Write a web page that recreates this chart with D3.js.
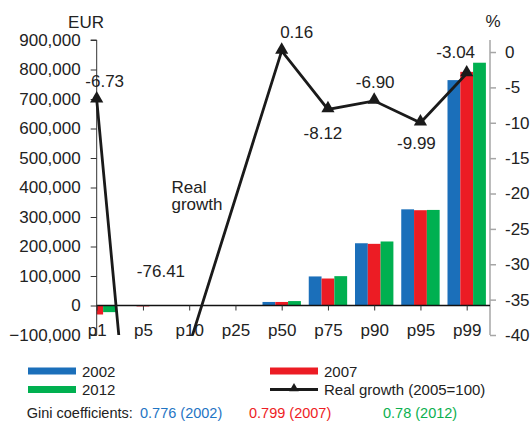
<!DOCTYPE html>
<html>
<head>
<meta charset="utf-8">
<script src="https://cdn.jsdelivr.net/npm/d3@7"></script>
<style>
  body { margin: 0; background: #fff; }
  svg { font-family: "Liberation Sans", Arial, sans-serif; }
</style>
</head>
<body>
<svg width="532" height="425"></svg>
<script>
var categories = ['p1', 'p5', 'p10', 'p25', 'p50', 'p75', 'p90', 'p95', 'p99'];
var years = ['2002', '2007', '2012'];
var wealth2002 = [-20000, 0, 0, 0, 12000, 98500, 211000, 326000, 764000];
var wealth2007 = [-30500, -3000, 0, 0, 12000, 91500, 209000, 323000, 792000];
var wealth2012 = [-22500, -1000, 0, 0, 15000, 99500, 217000, 324000, 823000];
var growth = [-6.73, -76.41, -41.5, null, 0.16, -8.12, -6.90, -9.99, -3.04];
var growthLabels = ['-6.73', '-76.41', '', '', '0.16', '-8.12', '-6.90', '-9.99', '-3.04'];
var leftTicks = [-100000, 0, 100000, 200000, 300000, 400000, 500000, 600000, 700000, 800000, 900000];
var rightTicks = [0, -5, -10, -15, -20, -25, -30, -35, -40];
var gini = [['0.776 (2002)', '#1f75c4'], ['0.799 (2007)', '#ee1d25'], ['0.78 (2012)', '#0bb04f']];

// label nudges, in pixels, relative to each point
var labelNudge = [[8, -13], [18, -58], [0, 0], [0, 0], [15, -13], [-5, 30], [1, -12.5], [-4, 26.5], [-11, -16]];

var colors = ['#1b6fba', '#ec1c24', '#00b050'];
var series = [wealth2002, wealth2007, wealth2012];

var svg = d3.select('svg');
var plotL = 96.7, plotR = 490, plotT = 40, plotB = 335;

var x = d3.scalePoint().domain(categories).range([plotL, 466.7]);
var yL = d3.scaleLinear().domain([-100000, 900000]).range([plotB, plotT]);
var yR = d3.scaleLinear().domain([-40, 1.7]).range([plotB, plotT]);

var barW = 12.8;

svg.append('clipPath').attr('id', 'plot')
  .append('rect').attr('x', plotL).attr('y', plotT).attr('width', plotR - plotL).attr('height', plotB - plotT);
svg.append('clipPath').attr('id', 'lineclip')
  .append('rect').attr('x', 60).attr('y', plotT).attr('width', 460).attr('height', plotB - plotT);

// bars
var bars = svg.append('g').attr('clip-path', 'url(#plot)');
series.forEach(function(s, j) {
  bars.selectAll('.b' + j)
    .data(s)
    .enter()
    .append('rect')
    .attr('x', function(d, i) { return x(categories[i]) - 1.5 * barW + j * barW; })
    .attr('y', function(d) { return Math.min(yL(d), yL(0)); })
    .attr('width', barW)
    .attr('height', function(d) { return Math.abs(yL(d) - yL(0)); })
    .attr('fill', colors[j]);
});

// left axis
var axL = svg.append('g').attr('transform', 'translate(' + plotL + ',0)')
  .call(d3.axisLeft(yL).tickValues(leftTicks).tickSize(6).tickPadding(10).tickFormat(d3.format(',')));
axL.select('.domain').attr('stroke', '#333').attr('d', 'M-6,' + plotT + 'H0V' + plotB + 'H-6');
axL.selectAll('.tick line').attr('stroke', '#333');
axL.selectAll('.tick text').attr('font-size', 17).attr('fill', '#222').attr('font-family', 'Liberation Sans, Arial, sans-serif');

// right axis
var axR = svg.append('g').attr('transform', 'translate(' + plotR + ',0)')
  .call(d3.axisRight(yR).tickValues(rightTicks).tickSize(6).tickPadding(9).tickFormat(d3.format('d')));
axR.select('.domain').attr('stroke', '#a6a6a6').attr('stroke-width', 1.5).attr('d', 'M0,' + plotT + 'V' + plotB);
axR.selectAll('.tick line').attr('stroke', '#a6a6a6').attr('stroke-width', 1.5);
axR.selectAll('.tick text').attr('font-size', 17).attr('fill', '#222').attr('font-family', 'Liberation Sans, Arial, sans-serif')
  .text(function(d) { return d < 0 ? '-' + Math.abs(d) : d; });

// zero line and category axis
var axX = svg.append('g').attr('transform', 'translate(0,' + yL(0) + ')')
  .call(d3.axisBottom(x).tickSize(5).tickPadding(13));
axX.select('.domain').attr('stroke', '#111').attr('stroke-width', 1.3).attr('d', 'M' + plotL + ',0H' + plotR);
axX.selectAll('.tick line').attr('stroke', '#333');
axX.selectAll('.tick text').attr('font-size', 17).attr('fill', '#222').attr('font-family', 'Liberation Sans, Arial, sans-serif');

svg.append('text').attr('x', 86).attr('y', 28).attr('text-anchor', 'middle')
  .attr('font-size', 17).attr('fill', '#222').text('EUR');
svg.append('text').attr('x', 493).attr('y', 27).attr('text-anchor', 'middle')
  .attr('font-size', 17).attr('fill', '#222').text('%');

// growth line
var pts = growth.map(function(v, i) { return {c: categories[i], v: v, i: i}; })
  .filter(function(d) { return d.v !== null; });

var line = d3.line()
  .x(function(d) { return x(d.c); })
  .y(function(d) { return yR(d.v); });

svg.append('path')
  .datum(pts)
  .attr('clip-path', 'url(#lineclip)')
  .attr('d', line)
  .attr('fill', 'none')
  .attr('stroke', '#1a1a1a')
  .attr('stroke-width', 2.8)
  .attr('stroke-linejoin', 'miter');

var tri = d3.symbol().type(d3.symbolTriangle).size(75);
svg.selectAll('.marker')
  .data(pts.filter(function(d) { return d.v >= -40; }))
  .enter()
  .append('path')
  .attr('d', tri)
  .attr('transform', function(d) { return 'translate(' + x(d.c) + ',' + (yR(d.v) - 1) + ')'; })
  .attr('fill', '#1a1a1a');

svg.selectAll('.glabel')
  .data(pts.filter(function(d) { return growthLabels[d.i] !== ''; }))
  .enter()
  .append('text')
  .attr('x', function(d) { return x(d.c) + labelNudge[d.i][0]; })
  .attr('y', function(d) { return yR(Math.max(d.v, -40)) + labelNudge[d.i][1]; })
  .attr('text-anchor', 'middle')
  .attr('font-size', 17)
  .attr('fill', '#222')
  .text(function(d) { return growthLabels[d.i]; });

var rg = svg.append('text').attr('x', 171.5).attr('y', 193).attr('font-size', 17).attr('fill', '#222');
rg.append('tspan').attr('x', 171.5).text('Real');
rg.append('tspan').attr('x', 171.5).attr('dy', 17).text('growth');

// legend
var legendPos = [[28, 371], [270, 371], [28, 389.5]];
years.forEach(function(yr, j) {
  svg.append('rect').attr('x', legendPos[j][0]).attr('y', legendPos[j][1] - 3.5)
    .attr('width', 48).attr('height', 7).attr('fill', colors[j]);
  svg.append('text').attr('x', legendPos[j][0] + 54).attr('y', legendPos[j][1] + 5.5)
    .attr('font-size', 15).attr('fill', '#222').text(yr);
});
svg.append('line').attr('x1', 270).attr('x2', 318).attr('y1', 389.5).attr('y2', 389.5)
  .attr('stroke', '#1a1a1a').attr('stroke-width', 2.8);
svg.append('path').attr('d', d3.symbol().type(d3.symbolTriangle).size(40))
  .attr('transform', 'translate(294,388.5)').attr('fill', '#1a1a1a');
svg.append('text').attr('x', 324).attr('y', 395).attr('font-size', 15).attr('fill', '#222')
  .text('Real growth (2005=100)');

svg.append('text').attr('x', 26.7).attr('y', 418).attr('font-size', 14.5).attr('fill', '#222')
  .text('Gini coefficients:');
var giniX = [140, 249, 383];
gini.forEach(function(g, j) {
  svg.append('text').attr('x', giniX[j]).attr('y', 418).attr('font-size', 14.5).attr('fill', g[1]).text(g[0]);
});
</script>
</body>
</html>
